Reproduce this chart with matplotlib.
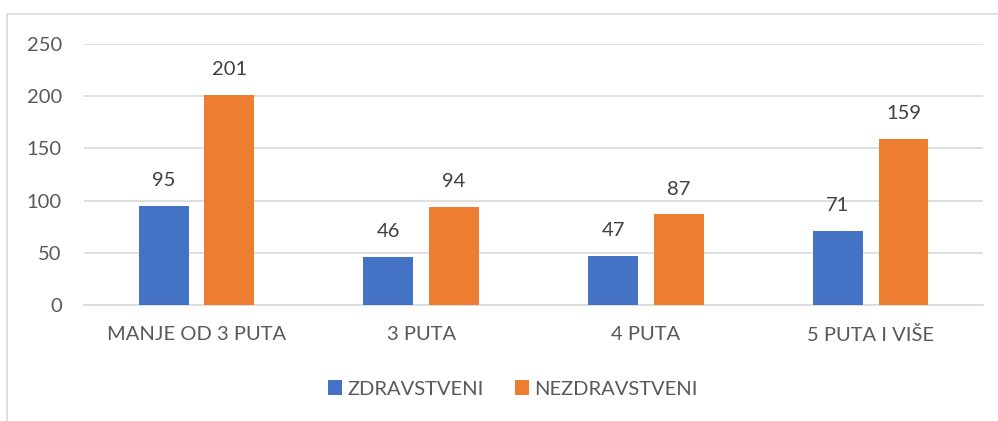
import numpy as np
import matplotlib.pyplot as plt
from matplotlib.lines import Line2D

categories = ['MANJE OD 3 PUTA', '3 PUTA', '4 PUTA', '5 PUTA I VIŠE']
zdravstveni = [95, 46, 47, 71]
nezdravstveni = [201, 94, 87, 159]

plt.rcParams['font.family'] = ['Lato', 'DejaVu Sans']
text_color = '#595959'
fs = 14.5

fig = plt.figure(figsize=(9.98, 4.21), dpi=100)
ax = fig.add_axes([0.0842, 0.2755, 0.9008, 0.62])

x = np.arange(len(categories))
w = 0.222
b1 = ax.bar(x - 0.146, zdravstveni, w, color='#4472C4', label='ZDRAVSTVENI', zorder=3)
b2 = ax.bar(x + 0.146, nezdravstveni, w, color='#ED7D31', label='NEZDRAVSTVENI', zorder=3)
ax.bar_label(b1, padding=12, fontsize=fs, color='#404040')
ax.bar_label(b2, padding=12, fontsize=fs, color='#404040')

ax.set_xlim(-0.5, len(categories) - 0.5)
ax.set_ylim(0, 250)
ax.set_yticks(range(0, 251, 50))
ax.set_xticks(x, categories)
ax.tick_params(axis='both', length=0, labelsize=fs, labelcolor=text_color)
ax.tick_params(axis='x', pad=15)
ax.tick_params(axis='y', pad=16)
ax.grid(axis='y', color='#D9D9D9', linewidth=1.2, zorder=0)
for s in ['top', 'right', 'left']:
    ax.spines[s].set_visible(False)
ax.spines['bottom'].set_color('#D9D9D9')
ax.spines['bottom'].set_linewidth(1.2)

fig.legend(loc='center', bbox_to_anchor=(0.514, 0.076), ncol=2, frameon=False,
           fontsize=fs, labelcolor=text_color, handlelength=0.7, handleheight=0.7,
           handletextpad=0.25, columnspacing=1.55)

# chart border (only top and left visible)
fig.add_artist(Line2D([7 / 998, 1.0], [1 - 14 / 421, 1 - 14 / 421], color='#D9D9D9', linewidth=1.2))
fig.add_artist(Line2D([7 / 998, 7 / 998], [0.0, 1 - 14 / 421], color='#D9D9D9', linewidth=1.2))

fig.savefig('out.png', dpi=100)
